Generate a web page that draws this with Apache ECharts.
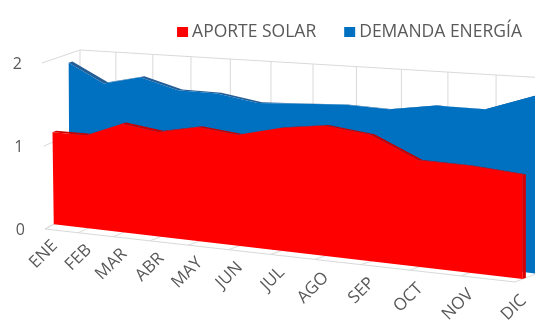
<!DOCTYPE html>
<html>
<head>
<meta charset="utf-8">
<script src="https://cdn.jsdelivr.net/npm/echarts@6/dist/echarts.min.js"></script>
<style>
  html, body { margin: 0; padding: 0; background: #ffffff; }
  #chart { width: 535px; height: 329px; }
</style>
</head>
<body>
<div id="chart"></div>
<script>
// Monthly values
const months = ['ENE', 'FEB', 'MAR', 'ABR', 'MAY', 'JUN', 'JUL', 'AGO', 'SEP', 'OCT', 'NOV', 'DIC'];
const aporteSolar = [1.12, 1.11, 1.27, 1.20, 1.28, 1.22, 1.32, 1.37, 1.30, 1.07, 1.05, 1.00];
const demandaEnergia = [1.89, 1.66, 1.76, 1.63, 1.62, 1.54, 1.56, 1.58, 1.56, 1.63, 1.62, 1.79];
const valueTicks = [0, 1, 2];

// Perspective box: the front plane (depth 0) and the back wall (depth 1),
// given by their corners (left-bottom, right-bottom, right-top, left-top).
const BOX = {
  front: { lb: [45, 229], rb: [515, 282], rt: [515, 66], lt: [42, 63] },
  back:  { lb: [80, 210], rb: [546, 270], rt: [546, 78], lt: [80, 50] }
};
const TEXT = '#595959';
const GRID = '#D9D9D9';
const FONT = '"Open Sans"';

function lerp(a, b, t) { return a + (b - a) * t; }

function quadAt(d) {
  const q = {};
  ['lb', 'rb', 'rt', 'lt'].forEach(function (k) {
    q[k] = [lerp(BOX.front[k][0], BOX.back[k][0], d), lerp(BOX.front[k][1], BOX.back[k][1], d)];
  });
  return q;
}

// Unit square -> quadrilateral projective mapping
function mapper(q) {
  const x0 = q.lb[0], y0 = q.lb[1], x1 = q.rb[0], y1 = q.rb[1];
  const x2 = q.rt[0], y2 = q.rt[1], x3 = q.lt[0], y3 = q.lt[1];
  const dx1 = x1 - x2, dx2 = x3 - x2, dx3 = x0 - x1 + x2 - x3;
  const dy1 = y1 - y2, dy2 = y3 - y2, dy3 = y0 - y1 + y2 - y3;
  let g = 0, h = 0;
  const den = dx1 * dy2 - dx2 * dy1;
  if (Math.abs(dx3) > 1e-9 || Math.abs(dy3) > 1e-9) {
    g = (dx3 * dy2 - dx2 * dy3) / den;
    h = (dx1 * dy3 - dx3 * dy1) / den;
  }
  const a = x1 - x0 + g * x1, b = x3 - x0 + h * x3, c = x0;
  const d = y1 - y0 + g * y1, e = y3 - y0 + h * y3, f = y0;
  return function (u, w) {
    const z = g * u + h * w + 1;
    return [(a * u + b * w + c) / z, (d * u + e * w + f) / z];
  };
}

function project(u, w, d) { return mapper(quadAt(d))(u, w); }

// Grid pixel -> unit coordinates (u along categories, w along values)
function toUnit(params, api, cat, val) {
  const cs = params.coordSys;
  const p = api.coord([cat, val]);
  return [(p[0] - cs.x) / cs.width, (cs.y + cs.height - p[1]) / cs.height];
}

function line(a, b, color, width) {
  return {
    type: 'line',
    shape: { x1: a[0], y1: a[1], x2: b[0], y2: b[1] },
    style: { stroke: color, lineWidth: width || 1 }
  };
}

function poly(points, fill) {
  return { type: 'polygon', shape: { points: points }, style: { fill: fill } };
}

// Walls, floor, gridlines and axis labels
function renderFrame(params, api) {
  const children = [];
  const i = api.value(0);
  if (params.dataIndexInside === 0) {
    children.push(poly([project(0, 0, 1), project(1, 0, 1), project(1, 1, 1), project(0, 1, 1)], '#ffffff'));
    children.push(poly([project(0, 0, 0), project(0, 0, 1), project(0, 1, 1), project(0, 1, 0)], '#ffffff'));
    valueTicks.forEach(function (t) {
      const uw = toUnit(params, api, 0, t);
      children.push(line(project(0, uw[1], 1), project(1, uw[1], 1), GRID));
      children.push(line(project(0, uw[1], 0), project(0, uw[1], 1), GRID));
      const p = project(0, uw[1], 0);
      children.push({
        type: 'text',
        style: {
          text: String(t), x: p[0] - 20, y: p[1] + 1,
          align: 'right', verticalAlign: 'middle',
          fill: TEXT, font: '16px ' + FONT
        }
      });
    });
    children.push(line(project(0, 0, 0), project(1, 0, 0), GRID));
  }
  const uw = toUnit(params, api, i, 0);
  children.push(line(project(uw[0], 0, 1), project(uw[0], 1, 1), GRID));
  children.push(line(project(uw[0], 0, 0), project(uw[0], 0, 1), GRID));
  const lp = project(uw[0], 0, 0.25);
  children.push({
    type: 'text',
    x: lp[0] + 1, y: lp[1] + 19,
    rotation: Math.PI / 4,
    style: {
      text: months[i], x: 0, y: 0,
      align: 'right', verticalAlign: 'middle',
      fill: TEXT, font: '17px ' + FONT
    }
  });
  return { type: 'group', children: children };
}

// A ribbon area: front face, top face and right side face
function makeArea(name, values, dFront, dBack, colors) {
  return {
    type: 'custom',
    name: name,
    coordinateSystem: 'cartesian2d',
    silent: true,
    itemStyle: { color: colors.front },
    data: values.map(function (v, i) { return [i, v]; }),
    renderItem: function (params, api) {
      if (params.dataIndexInside !== 0) return { type: 'group', children: [] };
      const n = params.dataInsideLength;
      const pts = [];
      for (let k = 0; k < n; k++) {
        pts.push(toUnit(params, api, api.value(0, k), api.value(1, k)));
      }
      const front = pts.map(function (p) { return project(p[0], p[1], dFront); });
      const back = pts.map(function (p) { return project(p[0], p[1], dBack); });
      const last = pts[n - 1];
      const first = pts[0];
      const children = [];
      children.push(poly([
        project(last[0], 0, dFront), project(last[0], last[1], dFront),
        project(last[0], last[1], dBack), project(last[0], 0, dBack)
      ], colors.side));
      children.push(poly(front.concat(back.slice().reverse()), colors.top));
      children.push(poly(front.concat([project(last[0], 0, dFront), project(first[0], 0, dFront)]), colors.front));
      return { type: 'group', children: children };
    }
  };
}

const chart = echarts.init(document.getElementById('chart'), null, { renderer: 'canvas' });
chart.setOption({
  animation: false,
  backgroundColor: '#ffffff',
  legend: {
    data: [{ name: 'APORTE SOLAR', icon: 'rect' }, { name: 'DEMANDA ENERGÍA', icon: 'rect' }],
    right: 8, top: 18,
    itemWidth: 11, itemHeight: 10, itemGap: 28,
    selectedMode: false,
    textStyle: { color: TEXT, fontSize: 17.5, fontFamily: 'Open Sans', padding: [0, 0, 0, -1] }
  },
  grid: { left: 0, right: 0, top: 0, bottom: 0 },
  xAxis: { type: 'category', data: months, boundaryGap: false, show: false },
  yAxis: { type: 'value', min: 0, max: 2, interval: 1, show: false },
  series: [
    {
      type: 'custom',
      name: 'frame',
      coordinateSystem: 'cartesian2d',
      silent: true,
      data: months.map(function (m, i) { return [i, 0]; }),
      renderItem: renderFrame
    },
    makeArea('DEMANDA ENERGÍA', demandaEnergia, 0.70, 0.80,
      { front: '#0070C0', top: '#255E96', side: '#005A9E' }),
    makeArea('APORTE SOLAR', aporteSolar, 0.25, 0.35,
      { front: '#FF0000', top: '#C80000', side: '#D60000' })
  ]
});
</script>
</body>
</html>
